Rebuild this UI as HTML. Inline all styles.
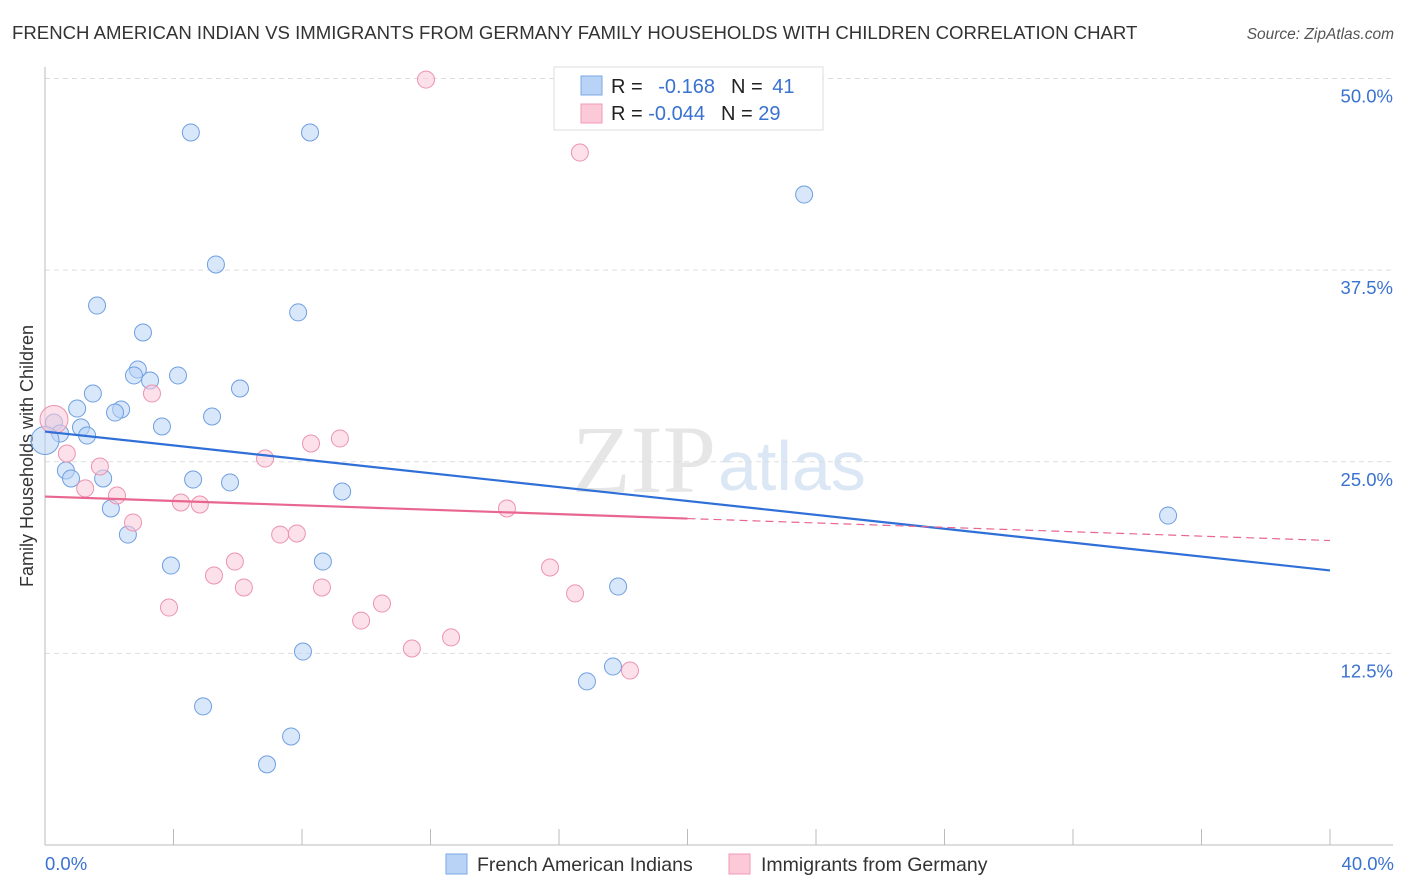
<!DOCTYPE html>
<html><head><meta charset="utf-8"><style>
body{margin:0;background:#fff;font-family:"Liberation Sans",sans-serif;}
svg{display:block}
</style></head><body>
<svg id="c" width="1406" height="892" font-family="Liberation Sans, sans-serif">
<text x="12" y="39" font-size="18.6" fill="#333">FRENCH AMERICAN INDIAN VS IMMIGRANTS FROM GERMANY FAMILY HOUSEHOLDS WITH CHILDREN CORRELATION CHART</text>
<text x="1394" y="39" font-size="15.5" fill="#555" font-style="italic" text-anchor="end">Source: ZipAtlas.com</text>
<text x="33" y="456" font-size="18" fill="#333" text-anchor="middle" transform="rotate(-90 33 456)">Family Households with Children</text>
<text x="716" y="492" font-size="96" fill="#e6e6e6" font-family="Liberation Serif, serif" text-anchor="end">ZIP</text>
<text x="718" y="490" font-size="70" fill="#dce7f5">atlas</text>
<g id="grid"></g><g id="marks"></g>
<g>
<rect x="554" y="67" width="269" height="63" fill="#fff" stroke="#ddd"/>
<rect x="581" y="76" width="21" height="19" fill="#b8d3f5" stroke="#7aa8e6"/>
<rect x="581" y="104" width="21" height="19" fill="#fbc9d8" stroke="#f09ab5"/>
<text x="611" y="93" font-size="20" fill="#222">R = <tspan fill="#3a72d0" dx="10">-0.168</tspan><tspan dx="16" fill="#222">N = </tspan><tspan fill="#3a72d0" dx="4">41</tspan></text>
<text x="611" y="120" font-size="20" fill="#222">R = <tspan fill="#3a72d0">-0.044</tspan><tspan dx="16" fill="#222">N = </tspan><tspan fill="#3a72d0">29</tspan></text>
</g>
<g>
<rect x="446" y="854" width="21" height="20" fill="#b8d3f5" stroke="#7aa8e6"/>
<text x="477" y="871" font-size="19.5" fill="#333">French American Indians</text>
<rect x="729" y="854" width="21" height="20" fill="#fbc9d8" stroke="#f09ab5"/>
<text x="761" y="871" font-size="19.5" fill="#333">Immigrants from Germany</text>
</g>
<text x="45" y="870" font-size="18.5" fill="#3a72d0">0.0%</text>
<text x="1394" y="870" font-size="18.5" fill="#3a72d0" text-anchor="end">40.0%</text>
</svg>
<script>
const yTicks=[50,37.5,25,12.5];
const yTickLabels=["50.0%","37.5%","25.0%","12.5%"];
const xTicks=[0,4,8,12,16,20,24,28,32,36,40];
const blueX=[4.54,8.25,23.63,5.32,1.62,7.88,3.05,2.89,2.77,3.27,4.14,6.07,1.49,1.00,2.37,2.18,5.20,0.28,3.64,1.12,0.47,1.31,0.0,0.65,0.81,1.81,4.61,5.76,9.25,2.05,34.96,2.58,8.65,3.92,17.84,8.03,17.68,16.87,4.92,7.66,6.91];
const blueY=[46.48,46.48,42.43,37.87,35.19,34.74,33.43,31.02,30.63,30.30,30.63,29.78,29.45,28.47,28.41,28.21,27.95,27.56,27.30,27.24,26.84,26.71,26.39,24.43,23.91,23.91,23.84,23.65,23.06,21.95,21.49,20.25,18.49,18.23,16.86,12.62,11.64,10.67,9.04,7.08,5.26];
const pinkX=[11.86,16.65,3.33,0.28,9.18,8.28,0.68,6.85,1.71,1.25,2.24,4.23,4.82,14.38,2.74,7.32,7.84,5.91,15.72,5.26,6.19,8.62,16.50,10.49,3.86,9.84,12.64,11.42,18.21];
const pinkY=[49.93,45.17,29.45,27.76,26.52,26.19,25.54,25.21,24.69,23.26,22.80,22.34,22.21,21.95,21.04,20.25,20.32,18.49,18.10,17.58,16.80,16.80,16.41,15.75,15.49,14.64,13.54,12.82,11.38];
const blueTrend=[26.97,17.91];
const pinkTrend=[22.73,19.86];
const pinkSolidEnd=20;
const X=v=>45+v*32.125, Y=v=>845-v*15.33;
const NS="http://www.w3.org/2000/svg";
function mk(t,a,p){const e=document.createElementNS(NS,t);for(const k in a)e.setAttribute(k,a[k]);p.appendChild(e);return e;}
const g=document.getElementById('grid'), m=document.getElementById('marks');
yTicks.forEach((v,i)=>{
 const l=mk('line',{x1:45,x2:1393,y1:Y(v),y2:Y(v),stroke:'#ddd','stroke-dasharray':'5,4'},g);
 
 
 const t=mk('text',{x:1393,y:Y(v)+24,'font-size':18.5,fill:'#3a72d0','text-anchor':'end'},g);
 t.textContent=yTickLabels[i];
 
 
});
const ax=mk('line',{x1:45,x2:45,y1:67,y2:845,stroke:'#bbb'},g);


const bx=mk('line',{x1:45,x2:1393,y1:845,y2:845,stroke:'#bbb'},g);


xTicks.forEach(v=>{
 const l=mk('line',{x1:X(v),x2:X(v),y1:829,y2:845,stroke:'#bbb'},g);
 
 
});
function pts(xs,ys,fill,stroke,name,big){
 xs.forEach((x,i)=>{
  const r=(big===i)?14:8.5;
  const c=mk('circle',{cx:X(x),cy:Y(ys[i]),r:r,fill:fill,'fill-opacity':0.55,stroke:stroke,'stroke-width':1},m);
  
  
 });
}
pts(blueX,blueY,'#b8d3f5','#6f9fe0','blue-point',22);
pts(pinkX,pinkY,'#fbc9d8','#ec93b0','pink-point',3);
const bl=mk('line',{x1:X(0),y1:Y(blueTrend[0]),x2:X(40),y2:Y(blueTrend[1]),stroke:'#2f6fd8','stroke-width':2.2},m);


const pm=pinkTrend[0]+(pinkTrend[1]-pinkTrend[0])*pinkSolidEnd/40;
const pl=mk('line',{x1:X(0),y1:Y(pinkTrend[0]),x2:X(pinkSolidEnd),y2:Y(pm),stroke:'#e8668f','stroke-width':2.2},m);


const pd=mk('line',{x1:X(pinkSolidEnd),y1:Y(pm),x2:X(40),y2:Y(pinkTrend[1]),stroke:'#e8668f','stroke-width':1.2,'stroke-dasharray':'8,5'},m);


</script>
</body></html>
